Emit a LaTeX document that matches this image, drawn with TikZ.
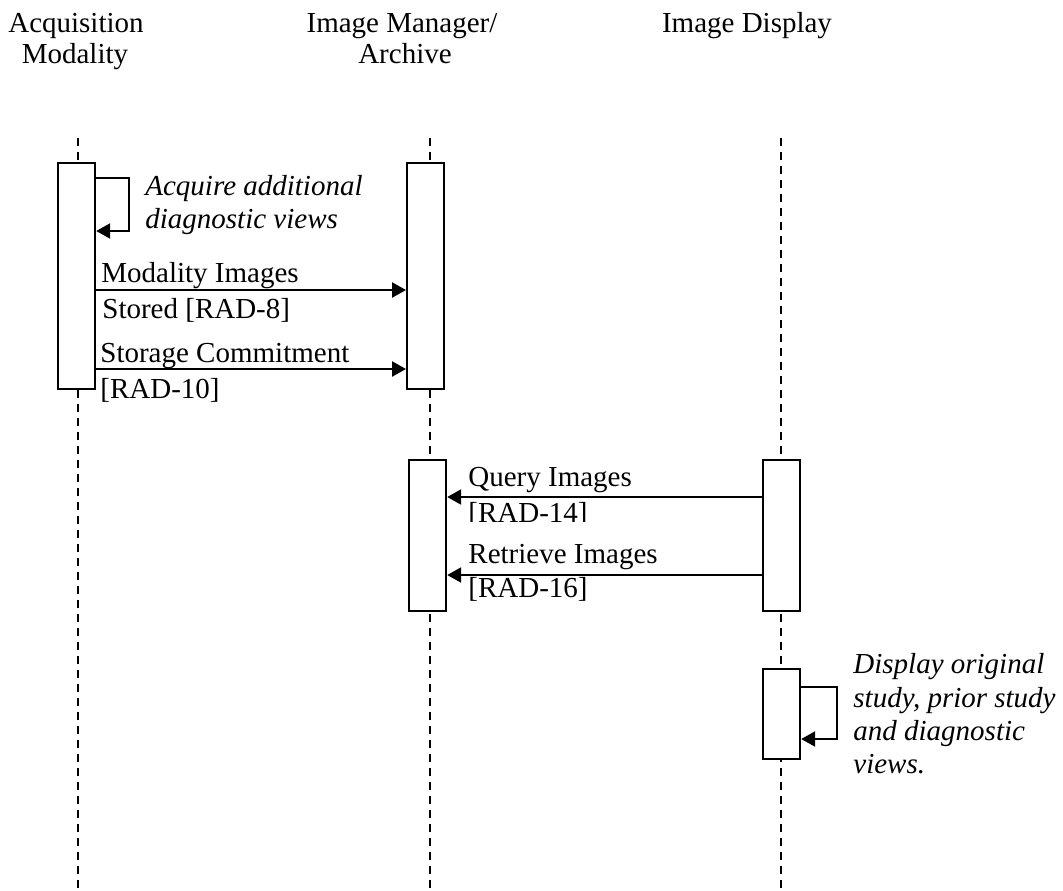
\documentclass[tikz,border=0pt]{standalone}
\usepackage{fontspec}
\setmainfont{Liberation Serif}
\usetikzlibrary{arrows.meta}
\begin{document}
\begin{tikzpicture}[x=0.5pt,y=-0.5pt,
  lifeline/.style={line width=1pt, dash pattern=on 4pt off 3pt},
  actbox/.style={draw, line width=1.1pt, fill=white, inner sep=0pt, minimum width=18.5pt, anchor=north west},
  msg/.style={line width=1.2pt, -{Triangle[length=7pt,width=7.5pt]}},
  selfmsg/.style={line width=1.2pt, -{Triangle[length=7pt,width=7.5pt]}},
  lbl/.style={font=\fontsize{14.5}{16.5}\selectfont, inner sep=0pt, anchor=base west},
  ilbl/.style={font=\fontsize{14.5}{16.5}\selectfont\itshape, inner sep=0pt, anchor=base west},
  hdr/.style={font=\fontsize{14.5}{16.5}\selectfont, inner sep=0pt, anchor=base}]
\useasboundingbox (0,0) rectangle (1063,890);

% headers
\node[hdr] (h1a) at (76,32) {Acquisition};
\node[hdr] (h1b) at (75,63) {Modality};
\node[hdr] (h2a) at (402,32) {Image Manager/};
\node[hdr] (h2b) at (405,63) {Archive};
\node[hdr] (h3a) at (747,32) {Image Display};

% lifelines
\coordinate (LAt) at (78,138);  \coordinate (LAb) at (78,890);
\coordinate (LMt) at (430,138); \coordinate (LMb) at (430,890);
\coordinate (LDt) at (781,138); \coordinate (LDb) at (781,890);
\draw[lifeline] (LAt) -- (LAb);
\draw[lifeline] (LMt) -- (LMb);
\draw[lifeline] (LDt) -- (LDb);

% activation boxes
\node[actbox, minimum height=113pt] (a1) at (57,162) {};
\node[actbox, minimum height=113pt] (m1) at (406,162) {};
\node[actbox, minimum height=75.5pt] (m2) at (408,459) {};
\node[actbox, minimum height=75.5pt] (d1) at (762,459) {};
\node[actbox, minimum height=45pt] (d2) at (762,668) {};

% self message on acquisition modality
\coordinate (s1a) at (129,178);
\coordinate (s1b) at (129,231);
\draw[selfmsg] (a1.east |- s1a) -- (s1a) -- (s1b) -- (a1.east |- s1b);
\node[ilbl] (t1a) at (145,195) {Acquire additional};
\node[ilbl] (t1b) at (145,228) {diagnostic views};

% messages to archive
\coordinate (y1) at (0,290);
\coordinate (y2) at (0,369);
\draw[msg] (a1.east |- y1) -- (m1.west |- y1);
\draw[msg] (a1.east |- y2) -- (m1.west |- y2);
\node[lbl] (t2a) at (101,282) {Modality Images};
\node[lbl] (t2b) at (102,318) {Stored [RAD-8]};
\node[lbl] (t3a) at (100,362) {Storage Commitment};
\node[lbl] (t3b) at (100,398) {[RAD-10]};

% messages from display
\coordinate (y3) at (0,497);
\coordinate (y4) at (0,575);
\draw[msg] (d1.west |- y3) -- (m2.east |- y3);
\draw[msg] (d1.west |- y4) -- (m2.east |- y4);
\node[lbl] (t4a) at (468,486) {Query Images};
\begin{scope}
  \clip (440,500) rectangle (700,521);
  \node[lbl] (t4b) at (468,522) {[RAD-14]};
\end{scope}
\node[lbl] (t5a) at (468,563) {Retrieve Images};
\node[lbl] (t5b) at (468,597) {[RAD-16]};

% self message on display
\coordinate (s2a) at (837,687);
\coordinate (s2b) at (837,739);
\draw[selfmsg] (d2.east |- s2a) -- (s2a) -- (s2b) -- (d2.east |- s2b);
\node[ilbl] (t6a) at (853,673) {Display original};
\node[ilbl] (t6b) at (853,707) {study, prior study};
\node[ilbl] (t6c) at (853,740) {and diagnostic};
\node[ilbl] (t6d) at (853,773) {views.};
\end{tikzpicture}
\end{document}
